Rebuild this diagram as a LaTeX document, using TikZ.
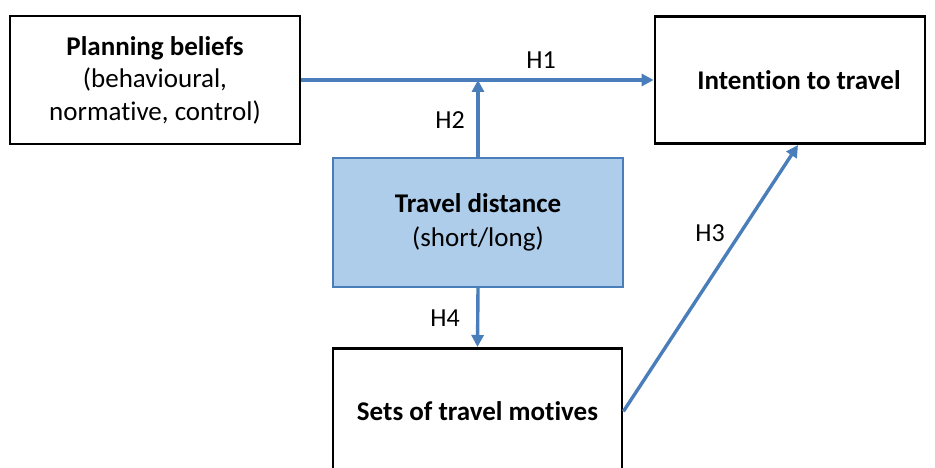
\documentclass[tikz,border=0pt]{standalone}
\usepackage{fontspec}
\setmainfont[Ligatures=NoCommon]{Carlito}
\usetikzlibrary{arrows.meta}
\definecolor{arrowblue}{HTML}{4A7EBB}
\definecolor{fillblue}{HTML}{ADCDEA}
\tikzset{
  plainbox/.style={draw=black, line width=2.8pt, fill=white, inner sep=0pt, align=center, font=\fontsize{27}{32.5}\selectfont},
  bluebox/.style={draw=arrowblue, line width=2.2pt, fill=fillblue, inner sep=0pt, align=center, font=\fontsize{27}{34}\selectfont},
  conn/.style={draw=arrowblue, line width=3.4pt, -{Triangle[length=12pt,width=12pt]}},
  hlabel/.style={font=\fontsize{26}{28}\selectfont, text=black}
}
\begin{document}
\begin{tikzpicture}[x=1pt,y=1pt]
\useasboundingbox (0,0) rectangle (935,-468);
\fill[white] (0,0) rectangle (935,-468);
\node[plainbox, minimum width=290pt, minimum height=128pt] (pb) at (155,-80)
  {\textbf{Planning beliefs}\\(behavioural,\\normative, control)};
\node[plainbox, minimum width=270pt, minimum height=127pt] (it) at (790,-80)
  {\hspace{18pt}\textbf{Intention to travel}};
\node[bluebox, minimum width=290pt, minimum height=129pt] (td) at (478,-222.5)
  {\textbf{Travel distance}\\(short/long)};
\node[plainbox, minimum width=289pt, minimum height=126pt, anchor=north] (sm) at (477.5,-347)
  {\textbf{Sets of travel motives}};
\coordinate (j) at (478,-80);
\coordinate (h3end) at (798,-145);
\draw[conn] (pb.east) -- (it.west);
\draw[conn] (td.north) -- (j);
\draw[conn] (sm.east) -- (h3end);
\draw[conn] (td.south) -- (sm.north);
\node[hlabel] (l1) at (541,-60) {H1};
\node[hlabel] (l2) at (450,-120) {H2};
\node[hlabel] (l3) at (710,-233) {H3};
\node[hlabel] (l4) at (445,-318) {H4};
\end{tikzpicture}
\end{document}
